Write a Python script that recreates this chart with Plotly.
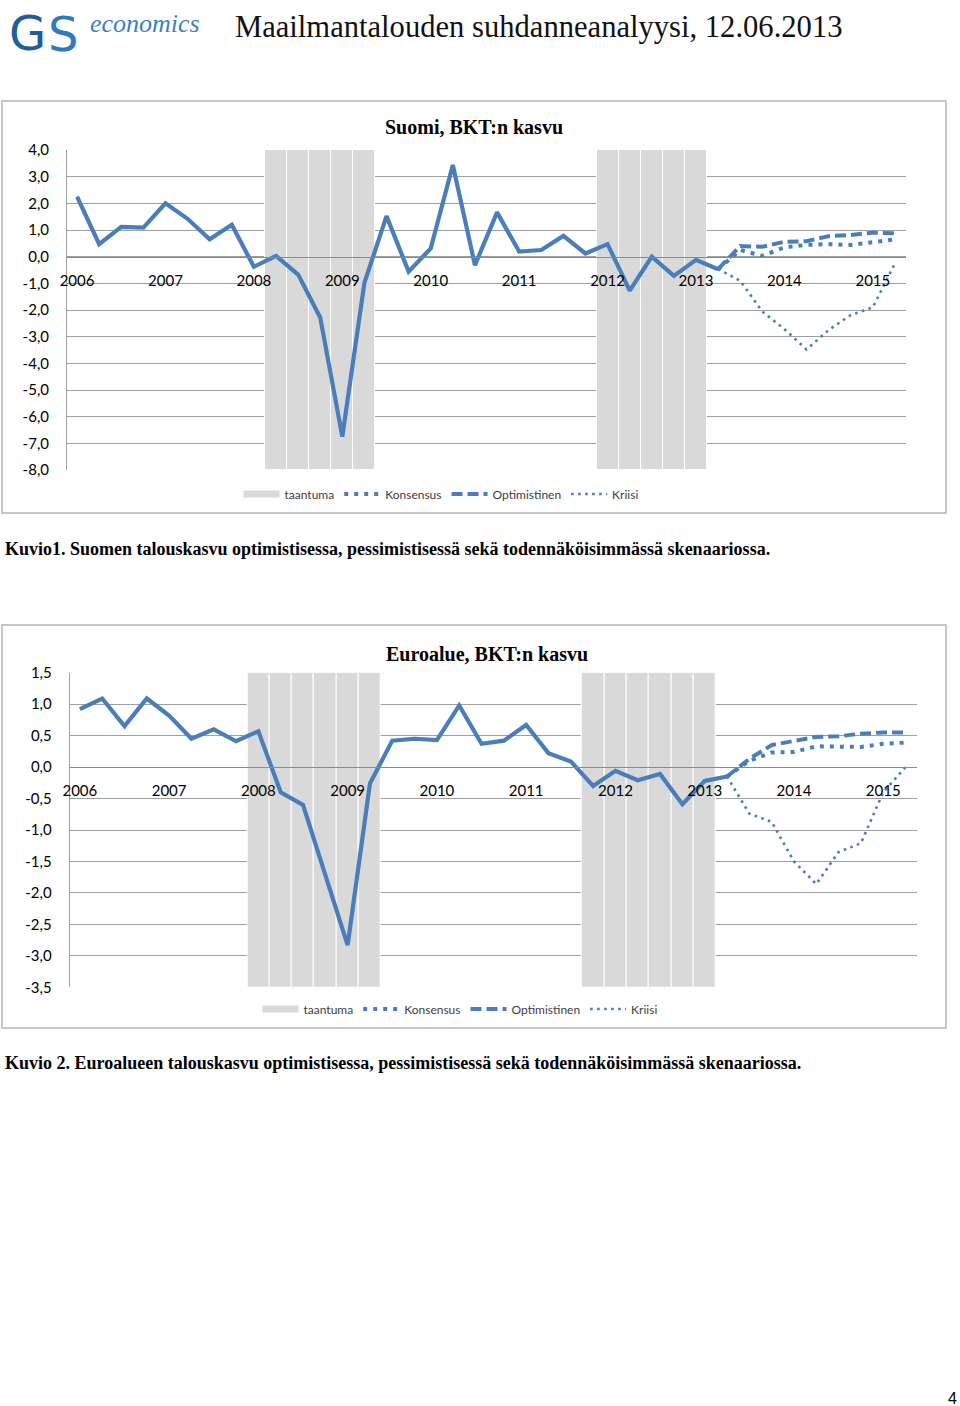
import plotly.graph_objects as go

# ---------------- data ----------------
year_labels = ["2006", "2007", "2008", "2009", "2010", "2011", "2012", "2013", "2014", "2015"]
n_quarters = 38  # 2006Q1 .. 2015Q2

# Finland (Suomi) quarterly GDP growth, history 2006Q1..2013Q2
fi_history = [2.25, 0.47, 1.12, 1.09, 2.0, 1.42, 0.65, 1.2, -0.38, 0.03,
              -0.67, -2.28, -6.75, -0.98, 1.52, -0.56, 0.31, 3.44, -0.32, 1.66,
              0.19, 0.25, 0.78, 0.12, 0.47, -1.27, 0.0, -0.72, -0.12, -0.47]
# forecasts 2013Q3..2015Q2
fi_konsensus = [0.25, 0.03, 0.35, 0.44, 0.47, 0.44, 0.56, 0.65]
fi_optimistinen = [0.4, 0.37, 0.56, 0.58, 0.77, 0.81, 0.9, 0.88]
fi_kriisi = [-0.9, -2.06, -2.72, -3.48, -2.75, -2.19, -1.9, -0.25]
fi_taantuma = [0] * 9 + [1] * 5 + [0] * 10 + [1] * 5 + [0] * 9
fi_yticks = [4.0, 3.0, 2.0, 1.0, 0.0, -1.0, -2.0, -3.0, -4.0, -5.0, -6.0, -7.0, -8.0]

# Euro area (Euroalue)
ea_history = [0.92, 1.09, 0.65, 1.09, 0.82, 0.45, 0.6, 0.41, 0.57, -0.4,
              -0.6, -1.7, -2.83, -0.26, 0.42, 0.45, 0.43, 0.98, 0.37, 0.42,
              0.67, 0.22, 0.09, -0.3, -0.06, -0.21, -0.11, -0.59, -0.22, -0.15]
ea_konsensus = [0.1, 0.23, 0.24, 0.33, 0.33, 0.32, 0.37, 0.39]
ea_optimistinen = [0.13, 0.35, 0.42, 0.48, 0.49, 0.53, 0.55, 0.55]
ea_kriisi = [-0.74, -0.87, -1.5, -1.86, -1.35, -1.21, -0.4, 0.0]
ea_taantuma = [0] * 8 + [1] * 6 + [0] * 9 + [1] * 6 + [0] * 9
ea_yticks = [1.5, 1.0, 0.5, 0.0, -0.5, -1.0, -1.5, -2.0, -2.5, -3.0, -3.5]

# ---------------- style ----------------
W, H = 960, 1406
BLUE = "#4A7EBB"
GRID = "#9f9f9f"
AXIS = "#8a8a8a"
SHADE = "#d9d9d9"
TICKFONT = dict(family="Lato", size=15, color="#000000")
LEGFONT = dict(family="Lato", size=12, color="#404040")


def px_x(p):
    return p / W


def px_y(p):
    return 1 - p / H


def fmt(v):
    # Finnish number format with a plain hyphen as the minus sign
    return f"{v:.1f}".replace(".", ",")


fig = go.Figure()


def add_chart(n, history, kons, opt, kri, rec, yticks,
              box_px, title, title_px, legend_px):
    xa = "x" if n == 1 else "x2"
    ya = "y" if n == 1 else "y2"
    xkey = "xaxis" if n == 1 else "xaxis2"
    ykey = "yaxis" if n == 1 else "yaxis2"
    tk_out = 2 + n  # xaxis3 / xaxis4
    tk_in = 4 + n   # xaxis5 / xaxis6
    leg = "legend" if n == 1 else "legend2"
    ymin, ymax = min(yticks), max(yticks)

    x0, x1, y0, y1 = box_px  # plot area pixels
    xdom = [px_x(x0), px_x(x1)]
    ydom = [px_y(y1), px_y(y0)]
    zero_pos = ydom[0] + (0 - ymin) / (ymax - ymin) * (ydom[1] - ydom[0])

    # recession shading
    rx = [i for i, f in enumerate(rec) if f]
    fig.add_trace(go.Bar(x=rx, y=[ymax - ymin] * len(rx), base=ymin, width=1,
                         marker=dict(color=SHADE, line=dict(color="white", width=1)),
                         name="taantuma", xaxis=xa, yaxis=ya, legend=leg,
                         showlegend=False, hoverinfo="skip"))
    # legend sample for the shading (Excel shows a wide grey bar)
    fig.add_trace(go.Scatter(x=[None], y=[None], mode="lines",
                             line=dict(color=SHADE, width=7),
                             name="taantuma", xaxis=xa, yaxis=ya, legend=leg))
    hx = list(range(len(history)))
    fig.add_trace(go.Scatter(x=hx, y=history, mode="lines",
                             line=dict(color=BLUE, width=4.2),
                             showlegend=False, xaxis=xa, yaxis=ya, legend=leg))
    fx = list(range(len(history) - 1, len(history) + len(kons)))
    fig.add_trace(go.Scatter(x=fx, y=[history[-1]] + kons, mode="lines",
                             line=dict(color=BLUE, width=4, dash="4px,6px"),
                             name="Konsensus", xaxis=xa, yaxis=ya, legend=leg))
    fig.add_trace(go.Scatter(x=fx, y=[history[-1]] + opt, mode="lines",
                             line=dict(color=BLUE, width=4, dash="11px,5px"),
                             name="Optimistinen", xaxis=xa, yaxis=ya, legend=leg))
    fig.add_trace(go.Scatter(x=fx, y=[history[-1]] + kri, mode="lines",
                             line=dict(color=BLUE, width=2.6, dash="2.6px,4.4px"),
                             name="Kriisi", xaxis=xa, yaxis=ya, legend=leg))

    xr = [-0.5, n_quarters - 0.5]
    label_vals = list(range(0, n_quarters, 4))
    bound_vals = [v + 3.5 for v in range(0, n_quarters - 4, 4)]

    fig.update_layout(**{
        xkey: dict(domain=xdom, range=xr, anchor="free", position=zero_pos,
                   tickvals=label_vals, ticktext=year_labels[:len(label_vals)],
                   ticks="", ticklabelstandoff=10, tickfont=TICKFONT,
                   showgrid=False, zeroline=False, showline=True,
                   linecolor=AXIS, linewidth=1, automargin=False),
        ykey: dict(domain=ydom, range=[ymin, ymax], anchor="free", position=xdom[0],
                   tickvals=yticks, ticktext=[fmt(v) for v in yticks], tickfont=TICKFONT,
                   showgrid=True, gridcolor=GRID, gridwidth=1, zeroline=False,
                   showline=True, linecolor=GRID, linewidth=1, mirror=True,
                   ticks="", ticklabelstandoff=14, automargin=False),
        f"xaxis{tk_out}": dict(overlaying=xa, range=xr, anchor="free", position=zero_pos,
                               tickvals=bound_vals, ticks="outside", ticklen=5,
                               tickcolor=AXIS, showticklabels=False, showgrid=False,
                               zeroline=False, showline=False, automargin=False),
        f"xaxis{tk_in}": dict(overlaying=xa, range=xr, anchor="free", position=zero_pos,
                              tickvals=bound_vals, ticks="inside", ticklen=5,
                              tickcolor=AXIS, showticklabels=False, showgrid=False,
                              zeroline=False, showline=False, automargin=False),
        leg: dict(orientation="h", x=px_x(legend_px[0]), y=px_y(legend_px[1]),
                  xanchor="center", yanchor="middle", font=LEGFONT,
                  bgcolor="rgba(0,0,0,0)", itemwidth=36, tracegroupgap=0),
    })

    fig.add_annotation(text=title, x=px_x(title_px[0]), y=px_y(title_px[1]),
                       xref="paper", yref="paper", showarrow=False,
                       xanchor="center", yanchor="middle",
                       font=dict(family="Liberation Serif", size=20, color="#000000"))


add_chart(1, fi_history, fi_konsensus, fi_optimistinen, fi_kriisi, fi_taantuma, fi_yticks,
          (66, 906, 150, 470), "<b>Suomi, BKT:n kasvu</b>", (474, 127), (441, 494))
add_chart(2, ea_history, ea_konsensus, ea_optimistinen, ea_kriisi, ea_taantuma, ea_yticks,
          (68.7, 916.7, 672.7, 987.3), "<b>Euroalue, BKT:n kasvu</b>",
          (487, 654), (460, 1009))

# chart frames
for (bx0, by0, bx1, by1) in [(2, 101, 946, 513), (2, 625, 946, 1028)]:
    fig.add_shape(type="rect", xref="paper", yref="paper",
                  x0=px_x(bx0), x1=px_x(bx1), y0=px_y(by1), y1=px_y(by0),
                  line=dict(color="#b5b5b5", width=1.5), layer="below")


def note(text, x, y, size, family, color="#000000", xanchor="center"):
    fig.add_annotation(text=text, x=px_x(x), y=px_y(y), xref="paper", yref="paper",
                       xanchor=xanchor, yanchor="middle", showarrow=False,
                       font=dict(family=family, size=size, color=color))


# header: logo + title
note("G", 27, 33, 48, "DejaVu Sans", "#1f5d9e")
note("S", 63, 34, 48, "DejaVu Sans", "#2e79c0")
note("<i>economics</i>", 88, 24, 26, "Liberation Serif", "#3b7fc4", "left")
note("Maailmantalouden suhdanneanalyysi, 12.06.2013", 233, 27, 30.6, "Liberation Serif", "#111111", "left")

# captions
note("<b>Kuvio1. Suomen talouskasvu optimistisessa, pessimistisessä sekä todennäköisimmässä skenaariossa.</b>",
     3, 549, 18, "Liberation Serif", "#000000", "left")
note("<b>Kuvio 2. Euroalueen talouskasvu optimistisessa, pessimistisessä sekä todennäköisimmässä skenaariossa.</b>",
     3, 1063, 18, "Liberation Serif", "#000000", "left")
note("4", 952, 1398, 16, "Liberation Sans")

fig.update_layout(template="none", width=W, height=H,
                  margin=dict(l=0, r=0, t=0, b=0, autoexpand=False),
                  paper_bgcolor="white", plot_bgcolor="white",
                  font=dict(family="Lato", size=12, color="#000000"),
                  bargap=0, showlegend=True, hovermode=False)

fig.write_html("out.html", config={"displayModeBar": False},
               post_script="document.body.style.margin='0';")
